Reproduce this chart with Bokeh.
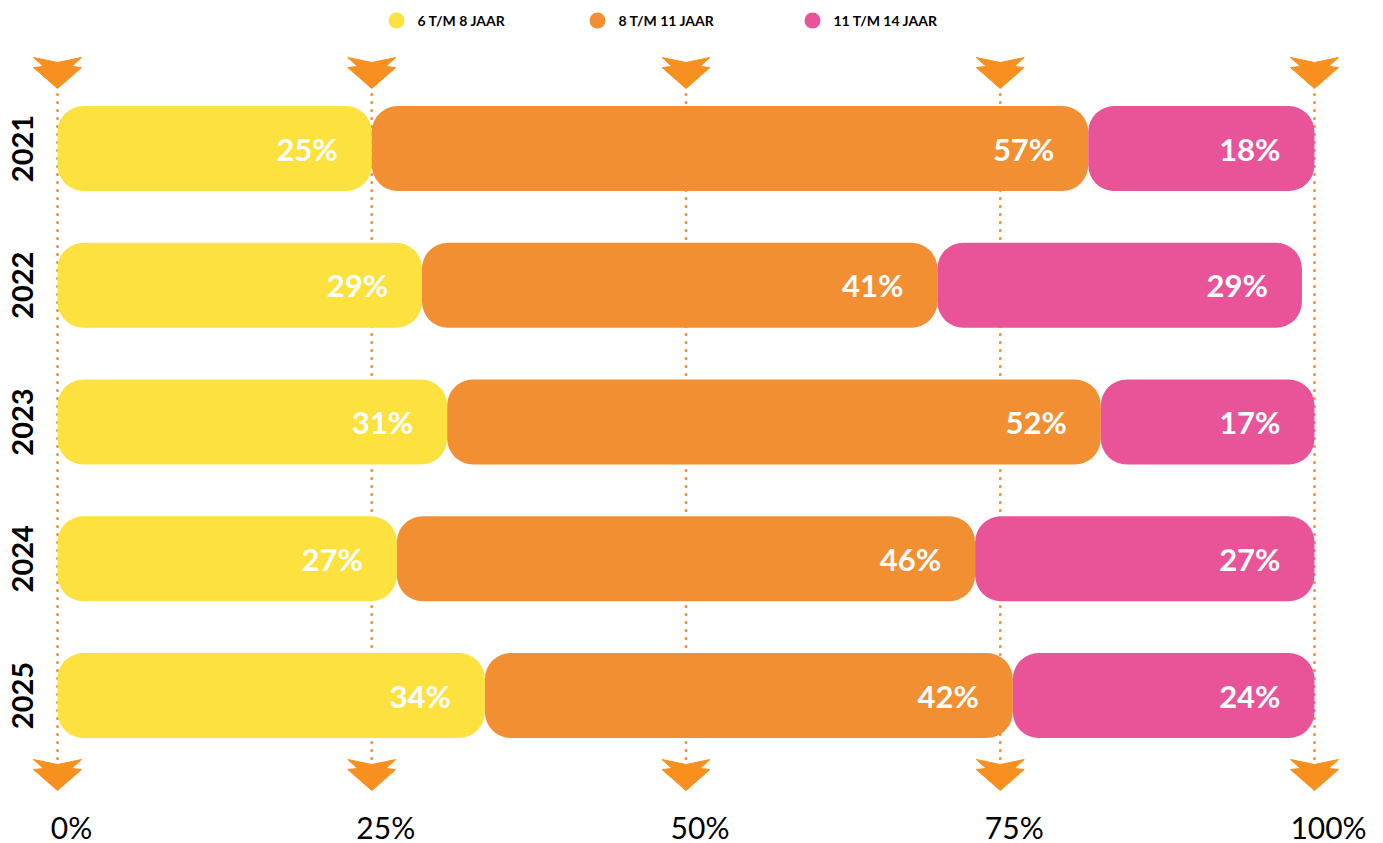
import math
from bokeh.plotting import figure
from bokeh.models import Range1d, ColumnDataSource
from bokeh.core.properties import value
from bokeh.embed import file_html
from bokeh.resources import INLINE

# ---------------- data ----------------
years = ["2021", "2022", "2023", "2024", "2025"]
series_names = ["6 T/M 8 JAAR", "8 T/M 11 JAAR", "11 T/M 14 JAAR"]
age_6_8 = [25, 29, 31, 27, 34]
age_8_11 = [57, 41, 52, 46, 42]
age_11_14 = [18, 29, 17, 27, 24]
tick_values = [0, 25, 50, 75, 100]
tick_labels = ["0%", "25%", "50%", "75%", "100%"]

colors = ["#FDE23F", "#F28F33", "#E95498"]
arrow_color = "#F7901E"
grid_color = "#F28F33"

# ---------------- layout (pixels) ----------------
W, H = 1383, 843
X0_PX, X1_PX = 57, 1314          # pixel of 0% and 100%
ROW0_PX, ROW_STEP = 148, 136.75  # pixel centre of first row, row spacing
SX = (X1_PX - X0_PX) / 100.0     # px per percent


def xpx(px):
    return (px - X0_PX) / SX


def ypx(py):
    return (py - ROW0_PX) / ROW_STEP


p = figure(width=W, height=H, output_backend="svg", toolbar_location=None,
           x_range=Range1d(xpx(0), xpx(W)), y_range=Range1d(ypx(H), ypx(0)))
p.min_border = 0
p.min_border_left = p.min_border_right = p.min_border_top = p.min_border_bottom = 0
p.outline_line_color = None
p.axis.visible = False
p.grid.visible = False
p.background_fill_color = "white"
p.border_fill_color = "white"

rows = list(range(len(years)))

# dotted guide lines
p.segment(x0=tick_values, x1=tick_values,
          y0=[ypx(78)] * len(tick_values), y1=[ypx(773)] * len(tick_values),
          line_color=grid_color, line_width=3, line_dash="0 8", line_cap="round")

# arrow decorations (shape template in px, placed at each tick)
shape = [(-24, 0), (0, 5), (24, 0), (14, 9), (24, 10), (0, 31), (-24, 10), (-14, 9)]
axs, ays = [], []
for top in (57, 759):
    for t in tick_values:
        axs.append([t + dx / SX for dx, dy in shape])
        ays.append([ypx(top + dy) for dx, dy in shape])
p.patches(axs, ays, fill_color=arrow_color, line_color=arrow_color, line_width=1)

# stacked bars
left = [0] * len(years)
series = [age_6_8, age_8_11, age_11_14]
BAR_H = 85 / ROW_STEP
for vals, col in zip(series, colors):
    right = [l + v for l, v in zip(left, vals)]
    src = ColumnDataSource(dict(y=rows, left=left, right=right,
                                lab=[f"{v}%" for v in vals]))
    p.hbar(y="y", left="left", right="right", height=BAR_H, source=src,
           fill_color=col, line_color=None, border_radius=26)
    p.text(x="right", y="y", text="lab", source=src, x_offset=-34,
           text_align="right", text_baseline="middle",
           text_font=value("Lato"), text_font_style="bold",
           text_font_size="31px", text_color="white")
    left = right

# year labels
p.text(x=[xpx(22)] * len(years), y=rows, text=years, angle=math.pi / 2,
       text_align="center", text_baseline="middle",
       text_font=value("Lato"), text_font_style="bold",
       text_font_size="29px", text_color="black")

# x tick labels
p.text(x=tick_values, y=[ypx(826)] * len(tick_values), text=tick_labels,
       x_offset=14, text_align="center", text_baseline="middle",
       text_font=value("Lato"), text_font_style="normal",
       text_font_size="30px", text_color="black")

# legend
leg_x = [xpx(396), xpx(597), xpx(812)]
p.scatter(x=leg_x, y=[ypx(20)] * 3, size=16, marker="circle",
          fill_color=colors, line_color=None)
p.text(x=[x + 21 / SX for x in leg_x], y=[ypx(20)] * 3, text=series_names,
       text_align="left", text_baseline="middle",
       text_font=value("Lato"), text_font_style="bold",
       text_font_size="14px", text_color="black")

open("out.html", "w").write(file_html(p, INLINE))
